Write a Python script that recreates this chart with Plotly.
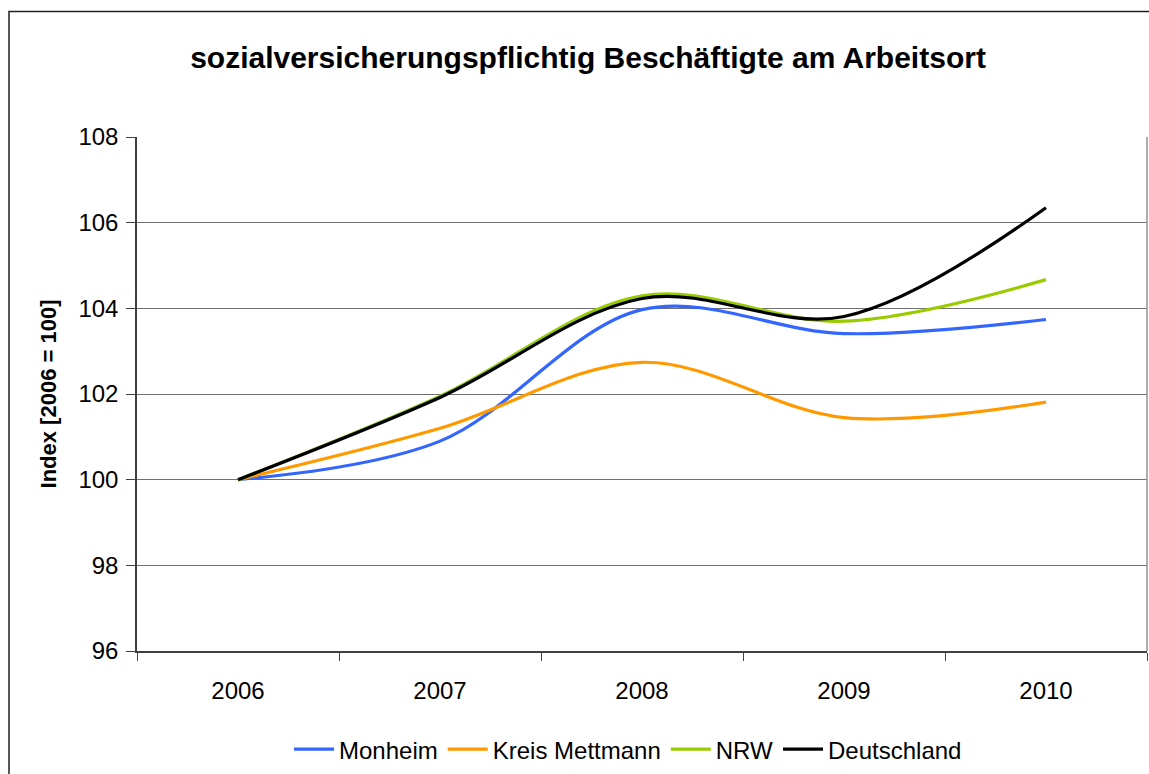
import plotly.graph_objects as go

years = ["2006", "2007", "2008", "2009", "2010"]
monheim = [100.0, 100.90, 103.97, 103.41, 103.74]
kreis_mettmann = [100.0, 101.20, 102.74, 101.45, 101.81]
nrw = [100.0, 101.95, 104.29, 103.70, 104.67]
deutschland = [100.0, 101.92, 104.23, 103.81, 106.35]

series = [
    ("Monheim", monheim, "#3366FF"),
    ("Kreis Mettmann", kreis_mettmann, "#FF9900"),
    ("NRW", nrw, "#99CC00"),
    ("Deutschland", deutschland, "#000000"),
]

FONT = "Arial, Liberation Sans, sans-serif"

fig = go.Figure()
for name, vals, col in series:
    fig.add_trace(go.Scatter(
        x=years, y=vals, name=name, mode="lines",
        line=dict(color=col, width=3.2, shape="spline", smoothing=1),
    ))

W, H = 1149, 774
L, R, T, B = 137, 2, 137, 121
pw, ph = W - L - R, H - T - B

fig.update_layout(
    width=W, height=H,
    margin=dict(l=L, r=R, t=T, b=B, pad=0),
    paper_bgcolor="white", plot_bgcolor="white",
    font=dict(family=FONT, size=24, color="black"),
    title=dict(
        text="<b>sozialversicherungspflichtig Beschäftigte am Arbeitsort</b>",
        x=588 / W, xanchor="center", y=1 - 57 / H, yanchor="middle",
        xref="container", yref="container",
        font=dict(family=FONT, size=30, color="black"),
    ),
    showlegend=True,
    legend=dict(
        orientation="h", x=(628 - L) / pw, xanchor="center",
        y=-(752 - 653) / ph, yanchor="middle",
        font=dict(family=FONT, size=24, color="black"),
        itemwidth=40, tracegroupgap=0, bgcolor="rgba(0,0,0,0)",
    ),
    xaxis=dict(
        type="category", range=[-0.5, 4.5], tickson="boundaries",
        ticks="outside", ticklen=8, tickcolor="#404040", tickwidth=1,
        showline=True, linecolor="#404040", linewidth=2,
        showgrid=False, zeroline=False, mirror=False,
        tickfont=dict(family=FONT, size=24, color="black"),
        ticklabelstandoff=17,
    ),
    yaxis=dict(
        range=[96, 108], dtick=2, tick0=96,
        ticks="outside", ticklen=9, tickcolor="#404040", tickwidth=1,
        showline=True, linecolor="#404040", linewidth=1.5,
        showgrid=True, gridcolor="#707070", gridwidth=1.2,
        zeroline=False,
        tickfont=dict(family=FONT, size=24, color="black"),
        ticklabelstandoff=3,
        title=dict(text="<b>Index [2006 = 100]</b>", standoff=16,
                   font=dict(family=FONT, size=22, color="black")),
    ),
    shapes=[
        dict(type="line", xref="paper", yref="paper", x0=1, x1=1, y0=0, y1=1,
             line=dict(color="#909090", width=1.5)),
        dict(type="rect", xref="paper", yref="paper",
             x0=(9 - L) / pw, x1=(W + 5 - L) / pw,
             y0=-(H + 5 - 653) / ph, y1=(653 - 11) / ph,
             line=dict(color="#202020", width=1.5), fillcolor="rgba(0,0,0,0)",
             layer="above"),
    ],
)

fig.write_html(
    "out.html",
    config={"displayModeBar": False},
    post_script="document.body.style.margin='0';document.body.style.overflow='hidden';",
)
